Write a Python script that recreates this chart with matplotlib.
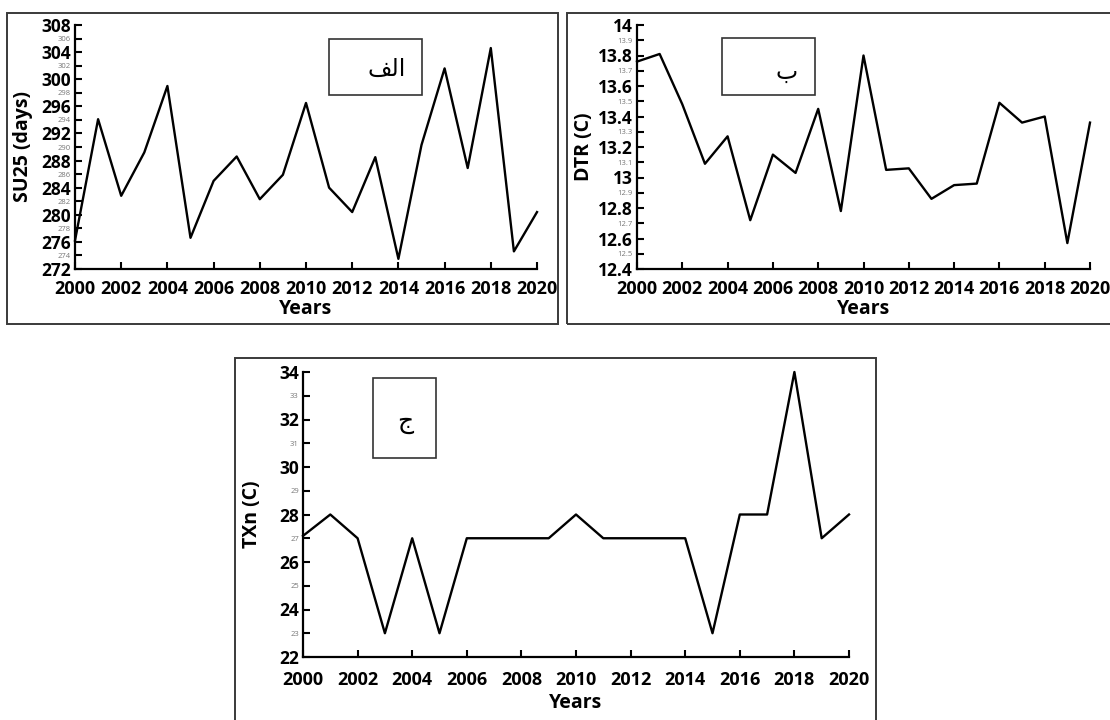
import matplotlib
matplotlib.use("Agg")
import matplotlib.pyplot as plt
from matplotlib.patches import Rectangle
import numpy as np

# datos
years = np.arange(2000, 2021)
su25 = [276.2, 294.1, 282.8, 289.2, 299.0, 276.6, 285.0, 288.6, 282.3, 285.9,
        296.5, 284.0, 280.4, 288.5, 273.5, 290.3, 301.6, 286.9, 304.6, 274.6, 280.4]
dtr = [13.76, 13.81, 13.48, 13.09, 13.27, 12.72, 13.15, 13.03, 13.45, 12.78,
       13.80, 13.05, 13.06, 12.86, 12.95, 12.96, 13.49, 13.36, 13.40, 12.57, 13.36]
txn = [27.1, 28, 27, 23, 27, 23, 27, 27, 27, 27,
       28, 27, 27, 27, 27, 23, 28, 28, 34, 27, 28]

labels_ar = ["\uFED2\uFEDF\uFE8D", "\uFE8F", "\uFE9D"]  # الف / ب / ج
ylabels = ["SU25 (days)", "DTR (C)", "TXn (C)"]

plt.rcParams['font.family'] = ['Open Sans', 'DejaVu Sans']

fig = plt.figure(figsize=(11.1, 7.2), dpi=100)

# marcos exteriores de cada panel
marcos = [(7, 13, 558, 324), (567, 13, 1125, 324), (235, 358, 876, 730)]
for x0, y0, x1, y1 in marcos:
    fig.add_artist(Rectangle((x0 / 1110, 1 - y1 / 720), (x1 - x0) / 1110,
                             (y1 - y0) / 720, transform=fig.transFigure,
                             fill=False, edgecolor='#3a3a3a', lw=1.4))

ax1 = fig.add_axes([75 / 1110, 1 - 269 / 720, 462 / 1110, 244 / 720])
ax2 = fig.add_axes([637 / 1110, 1 - 269 / 720, 453 / 1110, 244 / 720])
ax3 = fig.add_axes([303 / 1110, 1 - 657 / 720, 546 / 1110, 285 / 720])

# eje, valores, limites, ticks mayores, menores, pads
config = [
    (ax1, su25, (272, 308), np.arange(272, 309, 4), np.arange(274, 307, 4), 8, 1, 6),
    (ax2, dtr, (12.4, 14.0), np.round(np.arange(12.4, 14.01, 0.2), 1),
     np.round(np.arange(12.5, 13.91, 0.2), 1), 8, 1, 3),
    (ax3, txn, (22, 34), np.arange(22, 35, 2), np.arange(23, 34, 2), 10, 3, 12),
]

for i, (ax, vals, ylim, mayores, menores, xpad, xlpad, ylpad) in enumerate(config):
    ax.plot(years, vals, color='black', lw=1.7, clip_on=False)
    ax.set_xlim(2000, 2020)
    ax.set_ylim(*ylim)
    ax.spines['top'].set_visible(False)
    ax.spines['right'].set_visible(False)
    ax.spines['left'].set_linewidth(1.6)
    ax.spines['bottom'].set_linewidth(1.6)
    ax.set_xticks(np.arange(2000, 2021, 2))
    ax.set_xticklabels([str(y) for y in range(2000, 2021, 2)],
                       fontsize=13, fontweight='bold')
    ax.set_yticks(mayores)
    ax.set_yticklabels([f"{v:g}" for v in mayores], fontsize=12.5, fontweight='bold')
    ax.set_yticks(menores, minor=True)
    ax.set_yticklabels([f"{v:g}" for v in menores], minor=True,
                       fontsize=5.5, color='#777777')
    ax.tick_params(which='both', direction='in', length=5, width=1.5, pad=3)
    ax.tick_params(axis='x', pad=xpad)
    ax.set_xlabel("Years", fontsize=14, fontweight='bold', labelpad=xlpad)
    ax.set_ylabel(ylabels[i], fontsize=14, fontweight='bold', labelpad=ylpad)

# cajas con la letra de cada panel (coordenadas de datos)
cajas = [
    (ax1, 2011.0, 297.7, 4.0, 8.3, 2013.5, 301.5, 17),
    (ax2, 2003.76, 13.54, 4.1, 0.373, 2006.6, 13.69, 17),
    (ax3, 2002.58, 30.39, 2.28, 3.37, 2003.75, 31.9, 18),
]
for (ax, x0, y0, w, h, tx, ty, fs), lab in zip(cajas, labels_ar):
    ax.add_patch(Rectangle((x0, y0), w, h, fill=False, edgecolor='#333333',
                           lw=1.2, clip_on=False))
    ax.text(tx, ty, lab, ha='center', va='center', fontsize=fs,
            family=['DejaVu Sans'])

fig.savefig("out.png", dpi=100)
